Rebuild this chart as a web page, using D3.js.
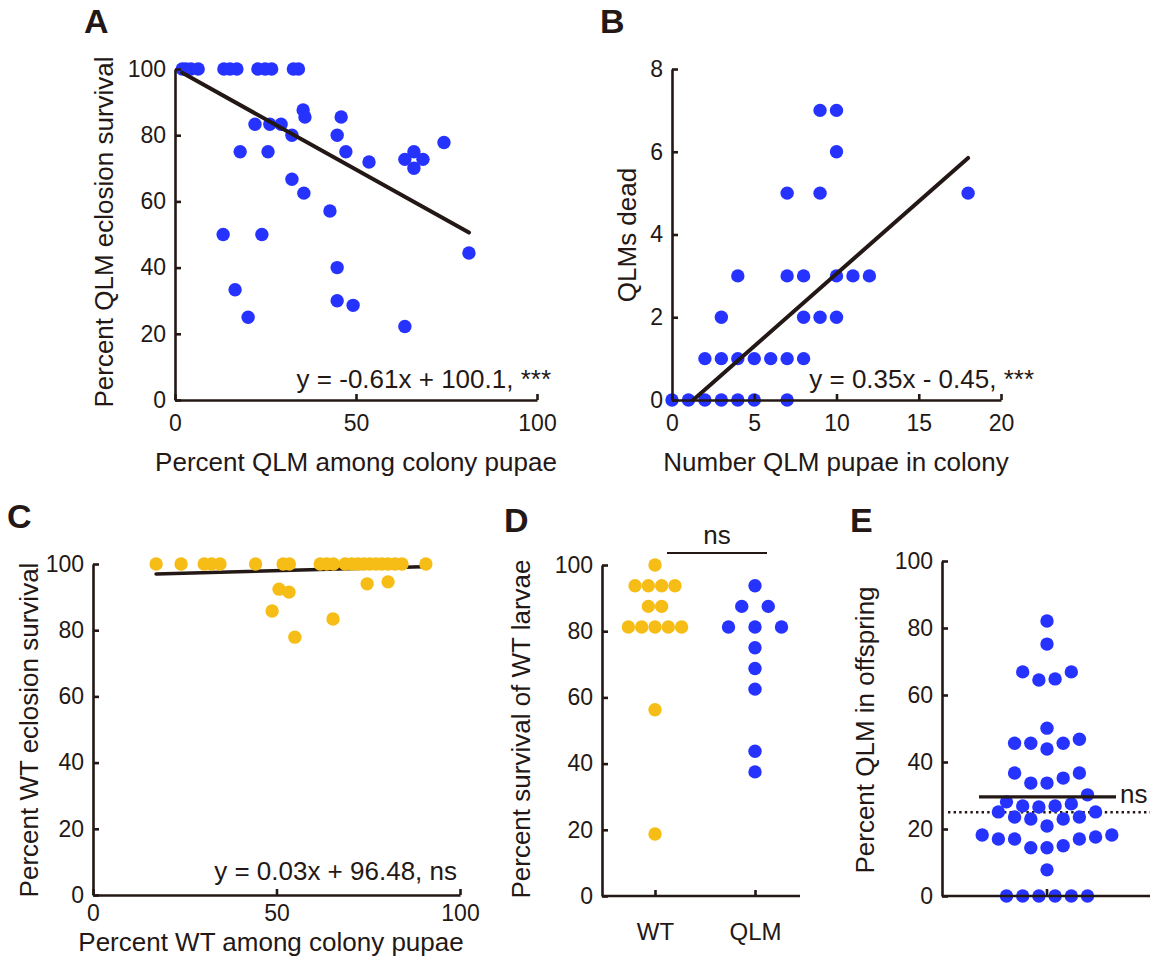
<!DOCTYPE html>
<html><head><meta charset="utf-8">
<script src="https://cdn.jsdelivr.net/npm/d3@7"></script>
<style>
body{margin:0;background:#fff}
svg{display:block}
text{font-family:"Liberation Sans",Arial,Helvetica,sans-serif;fill:#231815}
</style>
</head><body>
<svg id="chart" width="1150" height="961"></svg>
<script>
// ---------- DATA ----------
// Panel A: percent QLM among colony pupae vs percent QLM eclosion survival
const aX = [2.0, 3.0, 4.4, 6.4, 13.5, 15.2, 17.1, 22.9, 24.9, 26.7, 32.7, 34.1,
            35.4, 35.9, 45.9, 22.1, 26.2, 29.3, 32.3, 44.8, 18.0, 25.7, 47.2, 53.6,
            32.3, 35.6, 42.8, 66.0, 63.5, 68.5, 66.0, 74.3, 81.2, 44.8, 44.8, 49.2,
            63.5, 13.3, 24.0, 16.6, 20.2];
const aY = [100, 100, 100, 100, 100, 100, 100, 100, 100, 100, 100, 100,
            87.6, 85.5, 85.5, 83.3, 83.3, 83.3, 80.0, 80.0, 75.0, 75.0, 75.0, 71.9,
            66.7, 62.5, 57.1, 75.0, 72.7, 72.7, 70.0, 77.8, 44.4, 40.0, 30.0, 28.6,
            22.2, 50.0, 50.0, 33.3, 25.0];
const aFit = {slope: -0.61, intercept: 100.1, label: "y = -0.61x + 100.1, ***"};

// Panel B: number of QLM pupae in colony vs QLMs dead
const bX = [0, 1, 2, 3, 4, 5, 7,   2, 3, 4, 5, 6, 7, 8,   3, 8, 9, 10,
            4, 7, 8, 10, 11, 12,   7, 9, 18,   10,   9, 10];
const bY = [0, 0, 0, 0, 0, 0, 0,   1, 1, 1, 1, 1, 1, 1,   2, 2, 2, 2,
            3, 3, 3, 3, 3, 3,      5, 5, 5,    6,    7, 7];
const bFit = {slope: 0.35, intercept: -0.45, label: "y = 0.35x - 0.45, ***"};

// Panel C: percent WT among colony pupae vs percent WT eclosion survival
const cX = [17.2, 24.0, 30.3, 32.3, 34.6, 44.3, 51.8, 53.5, 61.9, 63.7, 65.5, 68.7,
            70.5, 72.2, 73.8, 75.4, 77.1, 78.7, 80.4, 82.3, 84.2, 90.7,
            50.7, 53.4, 48.8, 55.0, 65.4, 74.7, 80.4];
const cY = [100, 100, 100, 100, 100, 100, 100, 100, 100, 100, 100, 100,
            100, 100, 100, 100, 100, 100, 100, 100, 100, 100,
            92.4, 91.5, 85.8, 77.9, 83.4, 94.0, 94.6];
const cFit = {slope: 0.03, intercept: 96.48, label: "y = 0.03x + 96.48, ns"};

// Panel D: percent survival of WT larvae
const dGroups = ["WT", "QLM"];
const dWT  = [100, 93.75, 93.75, 93.75, 93.75, 87.5, 87.5, 81.25, 81.25, 81.25, 81.25, 81.25, 56.25, 18.75];
const dQLM = [93.75, 87.5, 87.5, 81.25, 81.25, 81.25, 75, 68.75, 62.5, 43.75, 37.5];

// Panel E: percent QLM in offspring
const eVals = [82.1, 75.2, 66.9, 66.9, 64.5, 64.8, 50.1, 46.8, 45.6, 45.6, 45.6, 43.9,
               36.7, 36.7, 35.2, 33.7, 33.7, 30.2, 28.1, 27.5, 26.9, 26.9, 26.6,
               25.1, 25.1, 23.6, 23.6, 23.0, 23.0, 20.9, 18.2, 18.2, 17.6, 17.0, 17.0, 17.0,
               15.0, 14.4, 14.4, 7.8, 0, 0, 0, 0, 0, 0];
const eExpected = 25;

// Tick values
const ticksPct = [0, 20, 40, 60, 80, 100];
const ticksPctX = [0, 50, 100];
const ticksBY = [0, 2, 4, 6, 8];
const ticksBX = [0, 5, 10, 15, 20];

// ---------- STYLE ----------
const INK = "#231815";
const BLUE = "#2633ff";
const YELLOW = "#f6bd16";
const R = 6.7;
const TICK_FS = 23, TITLE_FS = 26;

const svg = d3.select("#chart");

function styleAxis(g) {
  g.select(".domain").attr("stroke", INK).attr("stroke-width", 2.6);
  g.selectAll(".tick line").attr("stroke", INK).attr("stroke-width", 2.6);
  g.selectAll(".tick text").attr("fill", INK).style("font-size", TICK_FS + "px")
   .style("font-family", '"Liberation Sans", Arial, sans-serif');
}

function yAxis(y, x0, ticks, fmt) {
  const g = svg.append("g").attr("transform", `translate(${x0},0)`)
    .call(d3.axisLeft(y).tickValues(ticks).tickSizeInner(-6).tickSizeOuter(0).tickPadding(9).tickFormat(fmt || d3.format("d")));
  styleAxis(g);
  return g;
}
function xAxis(x, y0, ticks, pad) {
  const g = svg.append("g").attr("transform", `translate(0,${y0})`)
    .call(d3.axisBottom(x).tickValues(ticks).tickSizeInner(-6).tickSizeOuter(0).tickPadding(pad).tickFormat(d3.format("d")));
  styleAxis(g);
  return g;
}
function label(t, x, y, opts = {}) {
  const el = svg.append("text").attr("x", x).attr("y", y).text(t)
    .style("font-size", (opts.size || TITLE_FS) + "px")
    .attr("text-anchor", opts.anchor || "middle");
  if (opts.bold) el.style("font-weight", "bold");
  return el;
}
function yTitle(t, x, y) {
  svg.append("text").attr("transform", `translate(${x},${y}) rotate(-90)`)
    .attr("text-anchor", "middle").style("font-size", TITLE_FS + "px").text(t);
}
function scatter(xs, ys, x, y, color) {
  svg.append("g").selectAll("circle").data(xs.map((v, i) => [v, ys[i]])).join("circle")
    .attr("cx", d => x(d[0])).attr("cy", d => y(d[1])).attr("r", R).attr("fill", color);
}
function fitLine(fit, x0, x1, x, y, w) {
  svg.append("line")
    .attr("x1", x(x0)).attr("y1", y(fit.slope * x0 + fit.intercept))
    .attr("x2", x(x1)).attr("y2", y(fit.slope * x1 + fit.intercept))
    .attr("stroke", INK).attr("stroke-width", w).attr("stroke-linecap", "round");
}

// beeswarm: cluster values into rows, spread symmetrically around center
function swarm(values, threshold) {
  const sorted = values.map(v => v).sort((a, b) => a - b);
  const rows = []; let cur = null;
  sorted.forEach(v => {
    if (!cur || v - cur[0] > threshold) { cur = [v]; rows.push(cur); } else cur.push(v);
  });
  const out = [];
  rows.forEach(row => {
    const n = row.length;
    row.forEach((v, j) => {
      let k;
      if (n % 2 === 1) k = j === 0 ? 0 : (j % 2 === 1 ? -Math.ceil(j / 2) : Math.ceil(j / 2));
      else { const m = Math.floor(j / 2); k = j % 2 === 0 ? -(m + 0.5) : (m + 0.5); }
      out.push({v, k});
    });
  });
  return out;
}

// ---------- PANEL A ----------
{
  const x = d3.scaleLinear().domain([0, 100]).range([175, 537]);
  const y = d3.scaleLinear().domain([0, 100]).range([400, 69]);
  scatter(aX, aY, x, y, BLUE);
  const ext = d3.extent(aX);
  fitLine(aFit, ext[0], ext[1], x, y, 4);
  yAxis(y, 175, ticksPct);
  xAxis(x, 400, ticksPctX, 14.5);
  label(aFit.label, 551, 388, {anchor: "end"});
  label("Percent QLM among colony pupae", 356, 471);
  yTitle("Percent QLM eclosion survival", 113, 232);
  label("A", 84, 33, {anchor: "start", bold: true, size: 34});
}

// ---------- PANEL B ----------
{
  const x = d3.scaleLinear().domain([0, 20]).range([672, 1001]);
  const y = d3.scaleLinear().domain([0, 8]).range([400, 69]);
  scatter(bX, bY, x, y, BLUE);
  fitLine(bFit, -bFit.intercept / bFit.slope, d3.max(bX), x, y, 4);
  yAxis(y, 672, ticksBY);
  xAxis(x, 400, ticksBX, 14.5);
  label(bFit.label, 1034, 388, {anchor: "end"});
  label("Number QLM pupae in colony", 836, 471);
  yTitle("QLMs dead", 636, 235);
  label("B", 600, 33, {anchor: "start", bold: true, size: 34});
}

// ---------- PANEL C ----------
{
  const x = d3.scaleLinear().domain([0, 100]).range([93, 460]);
  const y = d3.scaleLinear().domain([0, 100]).range([895, 564]);
  const ext = d3.extent(cX);
  fitLine(cFit, ext[0], ext[1] - 1, x, y, 3.6);
  scatter(cX, cY, x, y, YELLOW);
  yAxis(y, 93, ticksPct);
  xAxis(x, 895, ticksPctX, 9.5);
  label(cFit.label, 457, 880, {anchor: "end"});
  label("Percent WT among colony pupae", 271, 951);
  yTitle("Percent WT eclosion survival", 38, 730);
  label("C", 7, 528, {anchor: "start", bold: true, size: 34});
}

// ---------- PANEL D ----------
{
  const x = d3.scalePoint().domain(dGroups).range([655, 755]);
  const y = d3.scaleLinear().domain([0, 100]).range([896, 565]);
  const specs = [{vals: dWT, g: "WT", color: YELLOW, step: 13.3},
                 {vals: dQLM, g: "QLM", color: BLUE, step: 26.5}];
  specs.forEach(s => {
    svg.append("g").selectAll("circle").data(swarm(s.vals, 0)).join("circle")
      .attr("cx", d => x(s.g) + d.k * s.step).attr("cy", d => y(d.v))
      .attr("r", R).attr("fill", s.color);
  });
  yAxis(y, 602, ticksPct);
  const g = svg.append("g").attr("transform", "translate(0,896)")
    .call(d3.axisBottom(x).tickSizeInner(-6).tickSizeOuter(0).tickPadding(27));
  styleAxis(g);
  g.selectAll(".tick text").style("font-size", "24px");
  g.select(".domain").remove();
  svg.append("line").attr("x1", 602).attr("x2", 800).attr("y1", 896).attr("y2", 896)
    .attr("stroke", INK).attr("stroke-width", 2.6);
  // significance bar
  svg.append("line").attr("x1", 667).attr("x2", 767).attr("y1", 553).attr("y2", 553)
    .attr("stroke", INK).attr("stroke-width", 2);
  label("ns", 717, 544);
  yTitle("Percent survival of WT larvae", 530, 729);
  label("D", 504, 532, {anchor: "start", bold: true, size: 34});
}

// ---------- PANEL E ----------
{
  const cx = 1047;
  const y = d3.scaleLinear().domain([0, 100]).range([896, 561]);
  const step = 16.2;
  svg.append("line").attr("x1", 948).attr("x2", 1150)
    .attr("y1", y(eExpected)).attr("y2", y(eExpected))
    .attr("stroke", INK).attr("stroke-width", 2.4).attr("stroke-dasharray", "2.4 3.2");
  svg.append("g").selectAll("circle").data(swarm(eVals, 4.3)).join("circle")
    .attr("cx", d => cx + d.k * step).attr("cy", d => y(d.v))
    .attr("r", R).attr("fill", BLUE);
  const m = d3.mean(eVals);
  svg.append("line").attr("x1", cx - 68).attr("x2", cx + 69)
    .attr("y1", y(m)).attr("y2", y(m)).attr("stroke", INK).attr("stroke-width", 3.4);
  label("ns", 1120, 803, {anchor: "start"});
  yAxis(y, 942, ticksPct);
  svg.append("line").attr("x1", 942).attr("x2", 1150).attr("y1", 896).attr("y2", 896)
    .attr("stroke", INK).attr("stroke-width", 2.6);
  svg.append("line").attr("x1", cx).attr("x2", cx).attr("y1", 896).attr("y2", 889)
    .attr("stroke", INK).attr("stroke-width", 2.6);
  yTitle("Percent QLM in offspring", 874, 730);
  label("E", 850, 532, {anchor: "start", bold: true, size: 34});
}
</script>
</body></html>
